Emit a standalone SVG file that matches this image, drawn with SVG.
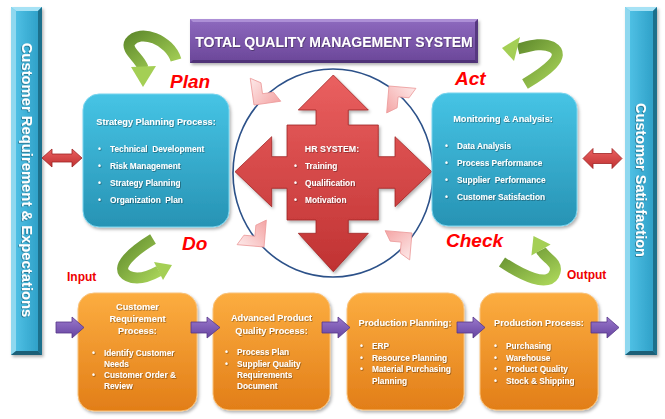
<svg xmlns="http://www.w3.org/2000/svg" width="665" height="419" viewBox="0 0 665 419">
<defs>
  <linearGradient id="cyanG" x1="0" y1="0" x2="0" y2="1"><stop offset="0" stop-color="#46c4e5"/><stop offset="1" stop-color="#2793b4"/></linearGradient>
  <linearGradient id="orangeG" x1="0" y1="0" x2="0" y2="1"><stop offset="0" stop-color="#fcad40"/><stop offset="1" stop-color="#e27e18"/></linearGradient>
  <linearGradient id="purpleG" x1="0" y1="0" x2="0" y2="1"><stop offset="0" stop-color="#8e6abf"/><stop offset="1" stop-color="#6a4698"/></linearGradient>
  <linearGradient id="barG" x1="0" y1="0" x2="1" y2="0"><stop offset="0" stop-color="#55c6ea"/><stop offset="1" stop-color="#2a9cc4"/></linearGradient>
  <linearGradient id="redG" x1="0" y1="0" x2="0" y2="1"><stop offset="0" stop-color="#ea6060"/><stop offset="1" stop-color="#c03232"/></linearGradient>
  <linearGradient id="greenG" x1="0" y1="0" x2="1" y2="1"><stop offset="0" stop-color="#628d2e"/><stop offset="1" stop-color="#a8d358"/></linearGradient>
  <linearGradient id="pinkG" x1="0" y1="0" x2="1" y2="1"><stop offset="0" stop-color="#fde9e9"/><stop offset="1" stop-color="#f4a4a4"/></linearGradient>
  <linearGradient id="purArrG" x1="0" y1="0" x2="0" y2="1"><stop offset="0" stop-color="#9a78cc"/><stop offset="1" stop-color="#6644a0"/></linearGradient>
  <filter id="sh" x="-10%" y="-10%" width="125%" height="125%"><feDropShadow dx="1.5" dy="2" stdDeviation="1.5" flood-color="#000" flood-opacity="0.3"/></filter>
  <filter id="tsh" x="-5%" y="-20%" width="115%" height="150%"><feDropShadow dx="0.7" dy="0.7" stdDeviation="0.4" flood-color="#000" flood-opacity="0.45"/></filter>
  <polygon id="chev" points="0,0 0,-27 10,-21 10,-10 21,-10 27,0"/>
</defs>
<style>
  .t { font-family: "Liberation Sans", Arial, sans-serif; font-weight: bold; fill: #ffffff; }
  .h { font-size: 9.2px; text-anchor: middle; }
  .b { font-size: 8.3px; }
  .lbl { font-family: "Liberation Sans", Arial, sans-serif; font-weight: bold; font-style: italic; fill: #ff0000; font-size: 19px; }
  .io { font-family: "Liberation Sans", Arial, sans-serif; font-weight: bold; fill: #ee0000; font-size: 12px; }
  .cyan { fill: url(#cyanG); stroke: #78d4ee; stroke-width: 1; }
  .orange { fill: url(#orangeG); stroke: #f9c27a; stroke-width: 1; }
  .parr { fill: url(#purArrG); stroke: #553688; stroke-width: 0.8; }
  .rarr { fill: url(#redG); stroke: #a02424; stroke-width: 0.8; }
  .garr { fill: none; stroke: url(#greenG); stroke-width: 11; }
  .ghead { fill: #a4cf55; }
  .pk { fill: url(#pinkG); stroke: #ec9a9a; stroke-width: 0.8; }
</style>
<rect width="665" height="419" fill="#ffffff"/>

<g id="left-bar" filter="url(#sh)">
  <rect x="11" y="7" width="31" height="348" fill="url(#barG)"/>
  <polygon points="11,7 42,7 38,11 16,11" fill="#a6e2f5"/>
  <polygon points="11,7 16,11 16,351 11,355" fill="#8fd8ef"/>
  <polygon points="42,7 42,355 38,351 38,11" fill="#1f6f8c"/>
  <polygon points="11,355 16,351 38,351 42,355" fill="#1a5e77"/>
  <text class="t" font-size="14.8" text-anchor="middle" dominant-baseline="central" transform="translate(27,180) rotate(90)" filter="url(#tsh)">Customer Requirement &amp; Expectations</text>
</g>

<g id="right-bar" filter="url(#sh)">
  <rect x="625" y="7" width="32" height="348" fill="url(#barG)"/>
  <polygon points="625,7 657,7 653,11 630,11" fill="#a6e2f5"/>
  <polygon points="625,7 630,11 630,351 625,355" fill="#8fd8ef"/>
  <polygon points="657,7 657,355 653,351 653,11" fill="#1f6f8c"/>
  <polygon points="625,355 630,351 653,351 657,355" fill="#1a5e77"/>
  <text class="t" font-size="14.5" text-anchor="middle" dominant-baseline="central" transform="translate(641,180) rotate(90)" filter="url(#tsh)">Customer Satisfaction</text>
</g>

<g id="title" filter="url(#sh)">
  <rect x="190" y="19" width="288" height="44" fill="url(#purpleG)"/>
  <polygon points="190,19 478,19 475,22 193,22" fill="#ad8fd6"/>
  <polygon points="478,19 478,63 475,60 475,22" fill="#573880"/>
  <polygon points="190,63 193,60 475,60 478,63" fill="#4f3277"/>
  <text class="t" x="334" y="47" font-size="14" text-anchor="middle" filter="url(#tsh)">TOTAL QUALITY MANAGEMENT SYSTEM</text>
</g>

<g id="labels">
  <text class="lbl" x="170" y="88">Plan</text>
  <text class="lbl" x="455" y="85">Act</text>
  <text class="lbl" x="182" y="250">Do</text>
  <text class="lbl" x="446" y="247" font-size="18">Check</text>
  <text class="io" x="67" y="281">Input</text>
  <text class="io" x="567" y="279">Output</text>
</g>

<g id="hr-circle">
  <ellipse cx="333" cy="173" rx="100" ry="104" fill="none" stroke="#2c5189" stroke-width="1.6"/>
  <use href="#chev" class="pk" transform="translate(254,105) rotate(-8)"/>
  <use href="#chev" class="pk" transform="translate(389,86) rotate(95)"/>
  <use href="#chev" class="pk" transform="translate(264,247) rotate(-85)"/>
  <use href="#chev" class="pk" transform="translate(412,233) rotate(185)"/>
</g>

<g id="hr-system">
  <polygon class="rarr" filter="url(#sh)" points="333.3,75 368.3,110 348.3,110 348.3,125 378.3,125 378.3,156.7 395,156.7 395,136.7 431.7,171.7 395,206.7 395,188.3 378.3,188.3 378.3,220 348.3,220 348.3,233.3 368.3,233.3 333.3,271.7 298.3,233.3 316,233.3 316,220 287,220 287,188.3 271.7,188.3 271.7,206.7 235,171.7 271.7,136.7 271.7,156.7 287,156.7 287,125 316,125 316,110 298.3,110"/>
  <g filter="url(#tsh)">
    <text class="t" x="332" y="152" font-size="8.8" text-anchor="middle">HR SYSTEM:</text>
    <text class="t b" x="294" y="169">•</text><text class="t b" x="305" y="169">Training</text>
    <text class="t b" x="294" y="186">•</text><text class="t b" x="305" y="186">Qualification</text>
    <text class="t b" x="294" y="203">•</text><text class="t b" x="305" y="203">Motivation</text>
  </g>
</g>

<g id="strategy">
  <rect class="cyan" x="83" y="94" width="146" height="133" rx="16" filter="url(#sh)"/>
  <g filter="url(#tsh)">
    <text class="t h" x="156" y="125">Strategy Planning Process:</text>
    <text class="t b" x="98" y="152">•</text><text class="t b" x="110" y="152" xml:space="preserve">Technical  Development</text>
    <text class="t b" x="98" y="169">•</text><text class="t b" x="110" y="169">Risk Management</text>
    <text class="t b" x="98" y="186">•</text><text class="t b" x="110" y="186">Strategy Planning</text>
    <text class="t b" x="98" y="203">•</text><text class="t b" x="110" y="203" xml:space="preserve">Organization  Plan</text>
  </g>
</g>

<g id="monitoring">
  <rect class="cyan" x="432" y="93" width="145" height="133" rx="16" filter="url(#sh)"/>
  <g filter="url(#tsh)">
    <text class="t h" x="503" y="122">Monitoring &amp; Analysis:</text>
    <text class="t b" x="445" y="149">•</text><text class="t b" x="457" y="149">Data Analysis</text>
    <text class="t b" x="445" y="166">•</text><text class="t b" x="457" y="166">Process Performance</text>
    <text class="t b" x="445" y="183">•</text><text class="t b" x="457" y="183" xml:space="preserve">Supplier  Performance</text>
    <text class="t b" x="445" y="200">•</text><text class="t b" x="457" y="200">Customer Satisfaction</text>
  </g>
</g>

<g id="customer-requirement">
  <rect class="orange" x="78" y="293" width="119" height="118" rx="16" filter="url(#sh)"/>
  <g filter="url(#tsh)">
    <text class="t h" x="137.5" y="310">Customer</text>
    <text class="t h" x="137.5" y="322">Requirement</text>
    <text class="t h" x="137.5" y="334">Process:</text>
    <text class="t b" x="92" y="356">•</text><text class="t b" x="104" y="356">Identify Customer</text>
    <text class="t b" x="104" y="367">Needs</text>
    <text class="t b" x="92" y="378">•</text><text class="t b" x="104" y="378">Customer Order &amp;</text>
    <text class="t b" x="104" y="389">Review</text>
  </g>
</g>

<g id="apqp">
  <rect class="orange" x="213" y="293" width="117" height="117" rx="16" filter="url(#sh)"/>
  <g filter="url(#tsh)">
    <text class="t h" x="271.5" y="321">Advanced Product</text>
    <text class="t h" x="271.5" y="334">Quality Process:</text>
    <text class="t b" x="225" y="355">•</text><text class="t b" x="237" y="355">Process Plan</text>
    <text class="t b" x="225" y="366.5">•</text><text class="t b" x="237" y="366.5">Supplier Quality</text>
    <text class="t b" x="237" y="378">Requirements</text>
    <text class="t b" x="237" y="389">Document</text>
  </g>
</g>

<g id="production-planning">
  <rect class="orange" x="347" y="293" width="117" height="117" rx="16" filter="url(#sh)"/>
  <g filter="url(#tsh)">
    <text class="t h" x="405" y="326">Production Planning:</text>
    <text class="t b" x="360" y="349">•</text><text class="t b" x="372" y="349">ERP</text>
    <text class="t b" x="360" y="360.5">•</text><text class="t b" x="372" y="360.5">Resource Planning</text>
    <text class="t b" x="360" y="372">•</text><text class="t b" x="372" y="372">Material Purchasing</text>
    <text class="t b" x="372" y="383.5">Planning</text>
  </g>
</g>

<g id="production-process">
  <rect class="orange" x="480" y="293" width="118" height="117" rx="16" filter="url(#sh)"/>
  <g filter="url(#tsh)">
    <text class="t h" x="539" y="326">Production Process:</text>
    <text class="t b" x="494" y="349">•</text><text class="t b" x="506" y="349">Purchasing</text>
    <text class="t b" x="494" y="360.5">•</text><text class="t b" x="506" y="360.5">Warehouse</text>
    <text class="t b" x="494" y="372">•</text><text class="t b" x="506" y="372">Product Quality</text>
    <text class="t b" x="494" y="383.5">•</text><text class="t b" x="506" y="383.5">Stock &amp; Shipping</text>
  </g>
</g>

<g id="connectors">
  <polygon class="rarr" points="42,158 52,149 52,154 72,154 72,149 82,158 72,167 72,162 52,162 52,167"/>
  <polygon class="rarr" points="583,158.5 593,148.5 593,153.5 612,153.5 612,148.5 622,158.5 612,168.5 612,163.5 593,163.5 593,168.5"/>
  <polygon class="parr" points="56,322 72,322 72,317 84,327.5 72,338 72,333 56,333"/>
  <polygon class="parr" points="191,322 207,322 207,317 220,327.5 207,338 207,333 191,333"/>
  <polygon class="parr" points="322,322 338,322 338,317 350,327.5 338,338 338,333 322,333"/>
  <polygon class="parr" points="457,322 473,322 473,317 485,327.5 473,338 473,333 457,333"/>
  <polygon class="parr" points="591,322 607,322 607,317 619,327.5 607,338 607,333 591,333"/>
  <g id="plan-arrow">
    <path class="garr" d="M176,60 C170,40 140,28 130,42 C125,50 140,58 143,68"/>
    <polygon class="ghead" points="131,67 156,66 143,87"/>
  </g>
  <g id="act-arrow">
    <path class="garr" d="M525,84 C545,72 568,56 552,47 C542,42 530,46 518,49"/>
    <polygon class="ghead" points="520,37 514,61 502,48"/>
  </g>
  <g id="do-arrow">
    <path class="garr" stroke-width="10" d="M153,239 C135,250 112,268 128,276 C138,281 150,276 159,271"/>
    <polygon class="ghead" points="154,262 163,280 172,265"/>
  </g>
  <g id="check-arrow">
    <path class="garr" stroke-width="10" d="M502,262 C520,274 550,290 555,272 C558,262 545,258 541,250"/>
    <polygon class="ghead" points="550.6,244.5 531.4,255.5 533.5,236"/>
  </g>
</g>
</svg>
